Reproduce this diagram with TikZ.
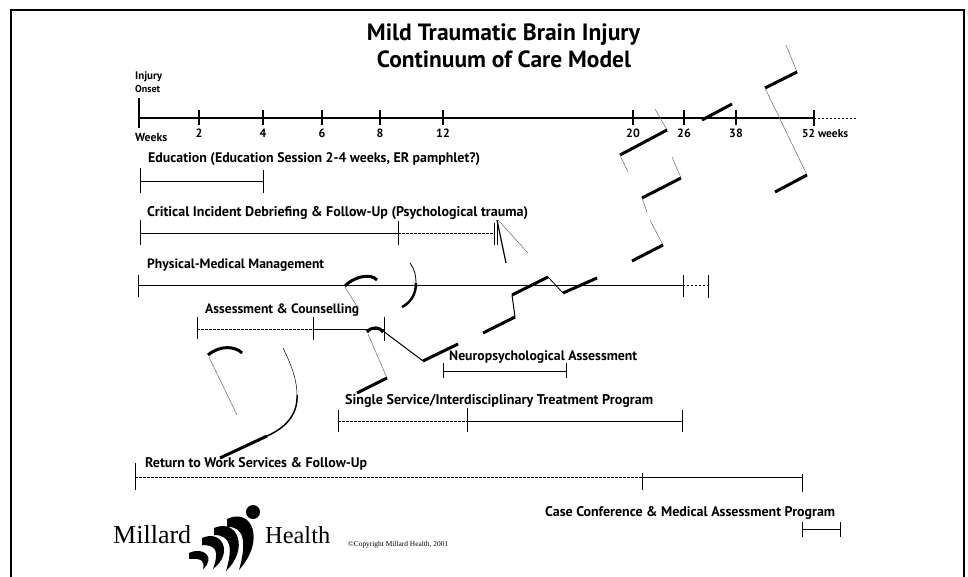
\documentclass[tikz,border=0pt]{standalone}
\usepackage{fontspec}
\setmainfont{Liberation Serif}
\newfontfamily\lblfont{PT Sans}
\newcommand\fitw[2]{\resizebox{#1pt}{!}{#2}}
\begin{document}
\begin{tikzpicture}[x=1pt,y=-1pt,
  lbl/.style={anchor=base west, inner sep=0pt, font=\lblfont\bfseries},
  lblc/.style={anchor=base, inner sep=0pt, font=\lblfont\bfseries},
  num/.style={anchor=base, inner sep=0pt, font=\lblfont\bfseries\fontsize{12}{12}\selectfont},
  axisline/.style={line width=2pt},
  axistick/.style={line width=2pt},
  bar/.style={line width=0.9pt},
  dbar/.style={line width=0.8pt, dash pattern=on 2.5pt off 1.5pt},
  tickmark/.style={line width=1pt},
  tk/.style={line width=3pt},
  tn/.style={line width=0.5pt, black!60},
  logofill/.style={fill=black}]
\useasboundingbox (0,0) rectangle (968,577);
% frame
\draw[line width=1.5pt] (11,577) -- (11,10) -- (964,10) -- (964,577);

% title
\node[lblc] (title1) at (503.5,41) {\fitw{273}{Mild Traumatic Brain Injury}};
\node[lblc] (title2) at (504,68) {\fitw{254}{Continuum of Care Model}};

% axis
\node[lbl] (injury) at (135,80) {\fitw{27}{Injury}};
\node[lbl] (onset) at (135,93) {\fitw{25}{Onset}};
\coordinate (w0) at (139,118);
\coordinate (w52) at (814,118);
\coordinate (wend) at (856,118);
\draw[axisline] (w0) -- (w52);
\draw[line width=0.6pt, dash pattern=on 2pt off 2pt] (w52) -- (wend);
\draw[axistick] (139,98) -- (139,128);
\foreach \x/\l in {199/2,263/4,322/6,380/8,443/12,633/20,684/26,736/38}{
  \draw[axistick] (\x,110) -- (\x,125);
  \node[num] (t\l) at (\x,138) {\l};
}
\draw[axistick] (814,110) -- (814,126);
\node[lbl] (weeks) at (135,142) {\fitw{32}{Weeks}};
\node[lbl] (w52l) at (802,138) {\fitw{46}{52 weeks}};

% Education
\node[lbl] (edl) at (148,163) {\fitw{332}{Education (Education Session 2-4 weeks, ER pamphlet?)}};
\coordinate (ed0) at (140,181); \coordinate (ed1) at (263,181);
\draw[bar] (ed0) -- (ed1);
\draw[tickmark] (ed0) ++(0,-13) -- ++(0,25);
\draw[tickmark] (ed1) ++(0,-11) -- ++(0,23);

% Critical incident
\node[lbl] (cil) at (147,217) {\fitw{381}{Critical Incident Debriefing \& Follow-Up (Psychological trauma)}};
\coordinate (ci0) at (140,233); \coordinate (ci1) at (398,233); \coordinate (ci2) at (494,233);
\draw[bar] (ci0) -- (ci1);
\draw[dbar] (ci1) -- (ci2);
\draw[tickmark] (ci0) ++(0,-13) -- ++(0,25);
\draw[tickmark] (ci1) ++(0,-12) -- ++(0,24);
\draw[tickmark] (ci2) ++(0,-10) -- ++(0,22);
\draw[tickmark] (ci2) ++(3,-12) -- ++(0,24);

% Physical-Medical
\node[lbl] (pml) at (147,268) {\fitw{177}{Physical-Medical Management}};
\coordinate (pm0) at (138,285); \coordinate (pm1) at (683,285); \coordinate (pm2) at (708,285);
\draw[bar] (pm0) -- (pm1);
\draw[line width=0.6pt, dash pattern=on 2pt off 2pt] (pm1) -- (pm2);
\draw[tickmark] (pm0) ++(0,-10) -- ++(0,22);
\draw[tickmark] (pm1) ++(0,-10) -- ++(0,22);
\draw[tickmark] (pm2) ++(0,-10) -- ++(0,23);

% Assessment & Counselling
\node[lbl] (acl) at (205,313) {\fitw{154}{Assessment \& Counselling}};
\coordinate (ac0) at (197,329); \coordinate (ac1) at (313,329); \coordinate (ac2) at (384,329);
\draw[dbar] (ac0) -- (ac1);
\draw[bar] (ac1) -- (ac2);
\draw[tickmark] (ac0) ++(0,-12) -- ++(0,22);
\draw[tickmark] (ac1) ++(0,-12) -- ++(0,23);
\draw[tickmark] (ac2) ++(0,-12) -- ++(0,24);

% Neuropsychological
\node[lbl] (npl) at (449,360) {\fitw{188}{Neuropsychological Assessment}};
\coordinate (np0) at (443,371); \coordinate (np1) at (566,371);
\draw[bar] (np0) -- (np1);
\draw[tickmark] (np0) ++(0,-8) -- ++(0,15);
\draw[tickmark] (np1) ++(0,-8) -- ++(0,15);

% Single service
\node[lbl] (ssl) at (345,404) {\fitw{308}{Single Service/Interdisciplinary Treatment Program}};
\coordinate (ss0) at (338,421); \coordinate (ss1) at (467,421); \coordinate (ss2) at (682,421);
\draw[dbar] (ss0) -- (ss1);
\draw[bar] (ss1) -- (ss2);
\draw[tickmark] (ss0) ++(0,-11) -- ++(0,22);
\draw[tickmark] (ss1) ++(0,-13) -- ++(0,24);
\draw[tickmark] (ss2) ++(0,-11) -- ++(0,22);

% Return to work
\node[lbl] (rwl) at (145,467) {\fitw{222}{Return to Work Services \& Follow-Up}};
\coordinate (rw0) at (135,477); \coordinate (rw1) at (642,477); \coordinate (rw2) at (802,477);
\draw[dbar] (rw0) -- (rw1);
\draw[bar] (rw1) -- (rw2);
\draw[tickmark] (rw0) ++(0,-14) -- ++(0,27);
\draw[tickmark] (rw1) ++(0,-4) -- ++(0,17);
\draw[tickmark] (rw2) ++(0,-3) -- ++(0,18);

% Case conference
\node[lbl] (ccl) at (545,516) {\fitw{290}{Case Conference \& Medical Assessment Program}};
\coordinate (cc0) at (802,529); \coordinate (cc1) at (840,529);
\draw[bar] (cc0) -- (cc1);
\draw[tickmark] (cc0) ++(0,-7) -- ++(0,15);
\draw[tickmark] (cc1) ++(0,-7) -- ++(0,15);

% overlay strokes
\draw[tn] (786,45) -- (797,72);
\draw[tk] (797,72) -- (765,88);
\draw[tn] (765,88) -- (807,175);
\draw[tk] (807,175) -- (775,192);
\draw[tn] (655,109) -- (667,130);
\draw[tk] (667,130) -- (620,155);
\draw[tn] (620,155) -- (628,172);
\draw[tk] (702,120) -- (732,104);
\draw[tn] (672,157) -- (681,178);
\draw[tk] (681,178) -- (642,198);
\draw[tn] (642,198) -- (647,212);
\draw[tn] (650,220) -- (663,245);
\draw[tk] (663,245) -- (632,261);
\draw[line width=1.2pt] (497,220) -- (506,263);
\draw[tn] (498,220) -- (528,253);
\draw[tk] (345,286) .. controls (352,278) and (370,272) .. (377,280);
\draw[tn] (345,287) -- (358,308);
\draw[line width=0.8pt] (410,263) .. controls (415,270) and (416,276) .. (416,283);
\draw[line width=2.5pt] (416,283) .. controls (416,295) and (410,303) .. (402,307);
\draw[tk] (483,333) -- (515,317);
\draw[line width=1pt] (515,317) -- (512,295);
\draw[tk] (512,295) -- (548,277);
\draw[line width=0.8pt] (548,277) -- (563,293);
\draw[tk] (563,293) -- (597,278);
\draw[tk] (367,332) .. controls (372,326) and (380,327) .. (383,332);
\draw[line width=1pt] (383,331) -- (423,361);
\draw[tk] (423,361) -- (458,344);
\draw[tn] (368,334) -- (387,378);
\draw[tk] (387,378) -- (357,393);
\draw[tk] (208,355) .. controls (220,345) and (235,346) .. (242,353);
\draw[tn] (209,357) -- (237,415);
\draw[line width=0.5pt] (283,348) .. controls (293,368) and (297,382) .. (297,395);
\draw[line width=1.5pt] (297,395) .. controls (298,415) and (285,428) .. (267,436);
\draw[tk] (267,436) -- (220,458);

% logo
\node[anchor=base west, inner sep=0pt] (millard) at (113,543) {\fitw{78}{Millard}};
\node[anchor=base west, inner sep=0pt] (health) at (265,543) {\fitw{65}{Health}};
\fill (253,512) circle (7);
\fill[logofill] (227,519) .. controls (252,507) and (266,540) .. (239,570)
   .. controls (247,542) and (244,526) .. (227,527) -- cycle;
\fill[logofill] (214,528) .. controls (237,518) and (250,548) .. (226,571)
   .. controls (233,548) and (231,535) .. (214,535) -- cycle;
\fill[logofill] (202,538) .. controls (222,529) and (234,553) .. (213,569)
   .. controls (219,552) and (217,545) .. (202,545) -- cycle;
\fill[logofill] (189,553) .. controls (204,546) and (216,558) .. (203,569)
   .. controls (205,561) and (202,558) .. (189,559) -- cycle;
\node[anchor=base west, inner sep=0pt] (copy) at (348,546) {\fitw{100}{©Copyright Millard Health, 2001}};
\end{tikzpicture}
\end{document}
